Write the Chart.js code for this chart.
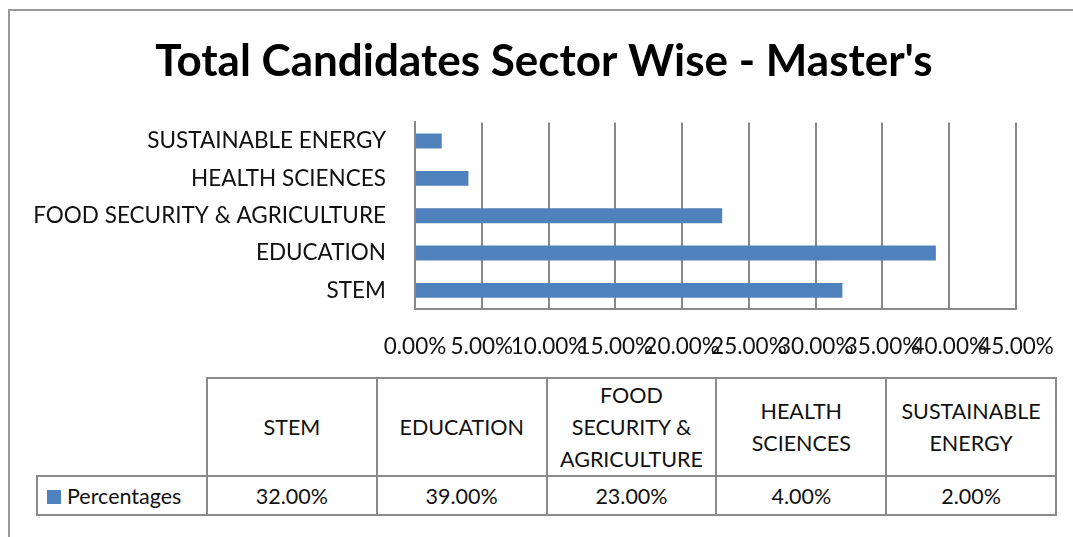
<!DOCTYPE html>
<html>
<head>
<meta charset="utf-8">
<script src="https://cdn.jsdelivr.net/npm/chart.js@4"></script>
<style>
    body{ margin:0; background:#fff; font-family:Lato, "Open Sans", sans-serif; }
    #wrap{ position:relative; width:1073px; height:537px; overflow:hidden; }
    #frame{ position:absolute; left:8px; top:9px; width:1100px; height:560px;
            border-left:2px solid #999; border-top:2px solid #999; }
    #grafico{ position:absolute; left:0; top:0; }
    #tabela{ position:absolute; left:36px; top:377px; border-collapse:collapse;
             table-layout:fixed; width:1019px; font-size:21.5px; color:#111; }
    #tabela td{ border:2px solid #8a8a8a; text-align:center; padding:0 6px; }
    #tabela tr.cab td{ height:94px; line-height:32px; }
    #tabela tr.val td{ height:37px; }
    #tabela td.canto{ border-top:none; border-left:none; }
    #tabela td.legenda{ text-align:left; padding:0 0 0 9px; white-space:nowrap; }
    .marca{ display:inline-block; width:14px; height:14px; background:#4F81BD;
            margin-right:6px; vertical-align:0px; }
</style>
</head>
<body>
<div id="wrap">
    <div id="frame"></div>
    <canvas id="grafico" width="1088" height="370"></canvas>
    <table id="tabela"></table>
</div>

<script>

// =====================================
// DADOS
// =====================================

const setores = [
    "STEM",
    "EDUCATION",
    "FOOD SECURITY & AGRICULTURE",
    "HEALTH SCIENCES",
    "SUSTAINABLE ENERGY"
];

const percentagens = [32, 39, 23, 4, 2];

const serieNome = "Percentages";

const titulo = "Total Candidates Sector Wise - Master's";


// =====================================
// TABELA
// =====================================

function montarTabela(){

    const tabela = document.getElementById("tabela");

    let cols = '<colgroup><col style="width:170px">';
    setores.forEach(()=>{ cols += '<col style="width:169.8px">'; });
    cols += '</colgroup>';

    let cab = '<tr class="cab"><td class="canto"></td>';
    setores.forEach(s=>{
        cab += '<td>' + s.replace("&","&amp;") + '</td>';
    });
    cab += '</tr>';

    let val = '<tr class="val"><td class="legenda"><span class="marca"></span>' +
              serieNome + '</td>';
    percentagens.forEach(v=>{
        val += '<td>' + v.toFixed(2) + '%</td>';
    });
    val += '</tr>';

    tabela.innerHTML = cols + cab + val;

}

montarTabela();


// =====================================
// GRAFICO
// =====================================

const fonte = "Lato, 'Open Sans', sans-serif";

new Chart(document.getElementById("grafico"),{

    type:"bar",

    data:{
        labels:setores,
        datasets:[{
            label:serieNome,
            data:percentagens,
            backgroundColor:"#4F81BD",
            barPercentage:0.4,
            categoryPercentage:1
        }]
    },

    options:{

        indexAxis:"y",
        responsive:false,
        animation:false,

        layout:{
            padding:0
        },

        plugins:{
            legend:{ display:false },
            tooltip:{ enabled:false },
            title:{
                display:true,
                text:titulo,
                color:"#000",
                font:{ family:fonte, size:44, weight:"bold", lineHeight:1.1 },
                padding:{ top:38, bottom:36 }
            }
        },

        scales:{

            x:{
                min:0,
                max:45,
                ticks:{
                    stepSize:5,
                    autoSkip:false,
                    maxRotation:0,
                    color:"#111",
                    padding:24,
                    font:{ family:fonte, size:22.5 },
                    callback:v=>v.toFixed(2) + "%"
                },
                grid:{
                    color:"#888",
                    lineWidth:2,
                    drawTicks:false
                },
                border:{ color:"#888", width:2 },
                afterFit:s=>{ s.height = 61; }
            },

            y:{
                reverse:true,
                ticks:{
                    color:"#111",
                    padding:21,
                    font:{ family:fonte, size:22.5 }
                },
                grid:{ display:false },
                border:{ color:"#888", width:2 },
                afterFit:s=>{ s.width = 415; }
            },

            // margem direita vazia
            y2:{
                type:"linear",
                position:"right",
                ticks:{ display:false },
                grid:{ display:false },
                border:{ display:false },
                afterFit:s=>{ s.width = 72; }
            }

        }

    }

});

</script>
</body>
</html>
